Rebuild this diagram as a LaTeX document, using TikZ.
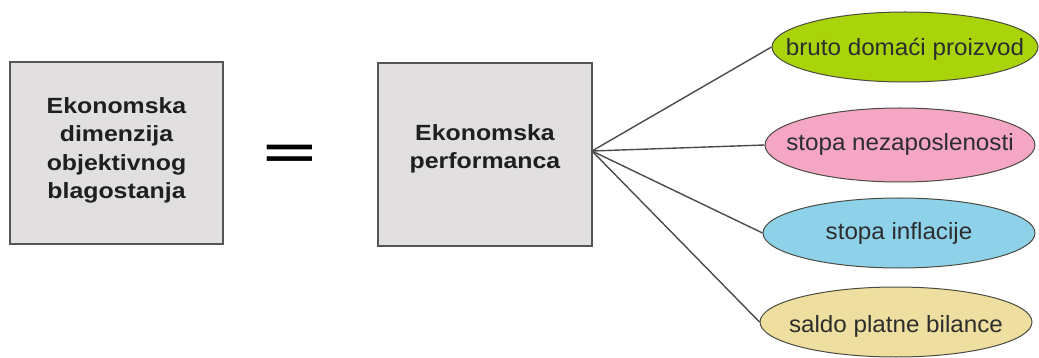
\documentclass[tikz,border=0pt]{standalone}
\usepackage{fontspec}
\setmainfont{Liberation Sans}
\newfontfamily\boxfont{Liberation Sans}[FakeStretch=1.13]
\newfontfamily\ellfont{Liberation Sans}[FakeStretch=1.03]
\usetikzlibrary{shapes.geometric}
\definecolor{boxgray}{RGB}{225,223,223}
\definecolor{boxedge}{RGB}{85,85,85}
\definecolor{linegray}{RGB}{75,75,75}
\definecolor{ovaledge}{RGB}{75,75,65}
\definecolor{ovgreen}{RGB}{170,212,10}
\definecolor{ovpink}{RGB}{244,166,196}
\definecolor{ovblue}{RGB}{142,210,234}
\definecolor{ovtan}{RGB}{238,222,160}
\definecolor{txtgray}{RGB}{45,45,45}
\newcommand\ovaltext[2]{\raisebox{-#1pt}[0pt][0pt]{\makebox[0pt]{#2}}}
\begin{document}
\begin{tikzpicture}[x=1pt,y=-1pt,
  bigbox/.style={draw=boxedge, line width=1.5pt, fill=boxgray, inner sep=0pt,
    minimum width=213pt, minimum height=182pt},
  boxtext/.style={font=\boxfont\bfseries\fontsize{22}{28.5}\selectfont, align=center,
    text=black!88, inner sep=0pt},
  oval/.style={ellipse, draw=ovaledge, line width=1pt, inner sep=0pt,
    font=\ellfont\fontsize{23.5}{27}\selectfont, text=txtgray},
  link/.style={draw=linegray, line width=1.4pt}]
\useasboundingbox (0,0) rectangle (1039,358);
\fill[white] (0,0) rectangle (1039,358);

\node[bigbox] (b1) at (116.5,153) {};
\node[boxtext] (t1) at (116.5,150.2) {Ekonomska\\dimenzija\\objektivnog\\blagostanja};

\node[inner sep=0pt] (eq) at (290,156) {\scalebox{2.1}[1]{\fontsize{43}{43}\selectfont\bfseries =}};

\node[bigbox, minimum width=214pt, minimum height=183pt] (b2) at (485,154.5) {};
\node[boxtext] (t2) at (485,148.8) {Ekonomska\\performanca};

\node[oval, fill=ovgreen, minimum width=266pt, minimum height=70pt] (e1) at (905,47)
  {\ovaltext{9}{bruto domaći proizvod}};
\node[oval, fill=ovpink, minimum width=270pt, minimum height=74pt] (e2) at (900,145)
  {\ovaltext{6}{stopa nezaposlenosti}};
\node[oval, fill=ovblue, minimum width=272pt, minimum height=70pt] (e3) at (899,233)
  {\ovaltext{7}{stopa inflacije}};
\node[oval, fill=ovtan, minimum width=272pt, minimum height=70pt] (e4) at (896,322)
  {\ovaltext{10}{saldo platne bilance}};

\coordinate (hub) at (592,151);
\draw[link] (hub) -- (e1.west);
\draw[link] (hub) -- (e2.west);
\draw[link] (hub) -- (e3.west);
\draw[link] (hub) -- (e4.west);
\end{tikzpicture}
\end{document}
